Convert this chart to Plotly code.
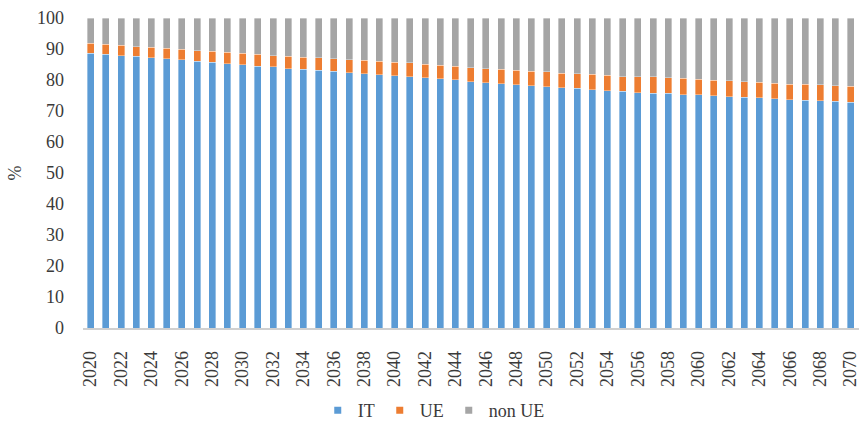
import plotly.graph_objects as go

years = list(range(2020, 2071))

# Share of IT (cumulative top of the blue segment), %
it = [88.6, 88.3, 87.8, 87.6, 87.1, 86.9, 86.5, 86.0, 85.8, 85.3,
      85.0, 84.5, 84.3, 83.7, 83.4, 83.1, 82.8, 82.4, 82.0, 81.7,
      81.4, 81.0, 80.7, 80.4, 80.1, 79.5, 79.1, 78.8, 78.5, 78.2,
      77.8, 77.5, 77.3, 76.9, 76.6, 76.3, 75.9, 75.8, 75.7, 75.3,
      75.2, 74.9, 74.6, 74.4, 74.2, 73.9, 73.7, 73.5, 73.3, 73.2,
      72.9]

# Cumulative IT + UE, %
it_ue = [91.8, 91.5, 91.2, 90.8, 90.5, 90.2, 90.0, 89.5, 89.2, 88.9,
         88.6, 88.3, 87.9, 87.6, 87.3, 87.1, 86.8, 86.5, 86.3, 86.0,
         85.8, 85.5, 85.1, 84.8, 84.4, 83.9, 83.7, 83.4, 83.2, 82.9,
         82.6, 82.2, 82.0, 81.8, 81.5, 81.1, 81.0, 81.1, 80.8, 80.5,
         80.3, 80.0, 79.7, 79.4, 79.2, 79.0, 78.7, 78.6, 78.4, 78.1,
         78.0]

ue = [round(a - b, 1) for a, b in zip(it_ue, it)]
non_ue = [round(100 - a, 1) for a in it_ue]

series_names = ["IT", "UE", "non UE"]
series_colors = ["#5B9BD5", "#ED7D31", "#A5A5A5"]
series_values = [it, ue, non_ue]

y_ticks = list(range(0, 101, 10))
x_ticks = list(range(2020, 2071, 2))

FONT = "'Liberation Serif', 'DejaVu Serif', serif"
TEXT_COLOR = "#3a3a3a"

fig = go.Figure()
for name, color, vals in zip(series_names, series_colors, series_values):
    fig.add_trace(go.Bar(
        x=years, y=vals, name=name,
        marker=dict(color=color, line=dict(color="rgba(255,255,255,0.6)", width=0.6)),
        showlegend=False,
    ))
    # small square legend keys
    fig.add_trace(go.Scatter(
        x=[None], y=[None], mode="markers", name=name,
        marker=dict(symbol="square", size=7, color=color),
        showlegend=True,
    ))

fig.update_layout(
    width=859, height=422,
    barmode="stack",
    bargap=0.54,
    plot_bgcolor="white",
    paper_bgcolor="white",
    margin=dict(l=83, r=0, t=18, b=94, autoexpand=False),
    font=dict(family=FONT, size=18, color=TEXT_COLOR),
    legend=dict(
        orientation="h", x=0.452, xanchor="center", y=-0.326, yanchor="bottom",
        traceorder="normal",
        font=dict(family=FONT, size=18, color=TEXT_COLOR),
        itemwidth=30, tracegroupgap=0,
    ),
    xaxis=dict(
        range=[2019.5, 2070.55],
        tickmode="array", tickvals=x_ticks, ticktext=[str(v) for v in x_ticks],
        tickangle=-90,
        showgrid=False, zeroline=False,
        showline=True, linecolor="#d0d0d0", linewidth=1.5,
        ticks="", ticklabelstandoff=14, ticklabeloverflow="allow",
        automargin=False,
        tickfont=dict(family=FONT, size=18, color=TEXT_COLOR),
    ),
    yaxis=dict(
        range=[0, 100],
        tickmode="array", tickvals=y_ticks,
        showgrid=False, zeroline=False, showline=False,
        ticks="", ticklabelstandoff=18, automargin=False,
        tickfont=dict(family=FONT, size=18, color=TEXT_COLOR),
        title=dict(text="%", standoff=10, font=dict(family=FONT, size=18, color=TEXT_COLOR)),
    ),
)

fig.write_html("out.html")
